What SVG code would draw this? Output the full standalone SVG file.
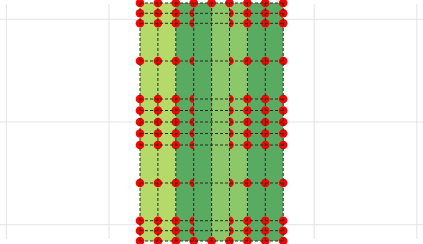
<svg xmlns="http://www.w3.org/2000/svg" width="423" height="244" viewBox="0 0 423 244">
<defs>
<style>
.bg{stroke:#e3e3e3;stroke-width:1;fill:none}
.light{fill:#b6da69}
.mid{fill:#8cc76a}
.dark{fill:#5aab62}
.dash{stroke:#1e2e1e;stroke-width:1;stroke-dasharray:3 2;fill:none}
.dot{fill:#ff0000}
</style>
<circle id="d" r="4.3" class="dot"/>
</defs>
<g id="grid">
<line class="bg" x1="6.3" y1="4" x2="6.3" y2="239"/>
<line class="bg" x1="109" y1="4" x2="109" y2="239"/>
<line class="bg" x1="314.2" y1="4" x2="314.2" y2="239"/>
<line class="bg" x1="416.8" y1="4" x2="416.8" y2="239"/>
<line class="bg" x1="0" y1="19.3" x2="423" y2="19.3"/>
<line class="bg" x1="0" y1="122" x2="423" y2="122"/>
<line class="bg" x1="0" y1="224.7" x2="423" y2="224.7"/>
</g>
<g id="bands">
<rect class="light" x="140" y="3" width="35.8" height="238"/>
<rect class="dark" x="175.8" y="3" width="35.8" height="238"/>
<rect class="mid" x="211.6" y="3" width="35.8" height="238"/>
<rect class="dark" x="247.4" y="3" width="35.8" height="238"/>
</g>
<g id="dots">
<g id="r0" transform="translate(0,3)"><use href="#d" x="140"/><use href="#d" x="157.9"/><use href="#d" x="175.8"/><use href="#d" x="193.7"/><use href="#d" x="211.6"/><use href="#d" x="229.5"/><use href="#d" x="247.4"/><use href="#d" x="265.3"/><use href="#d" x="283.2"/></g>
<g id="r1" transform="translate(0,13.3)"><use href="#d" x="140"/><use href="#d" x="157.9"/><use href="#d" x="175.8"/><use href="#d" x="193.7"/><use href="#d" x="211.6"/><use href="#d" x="229.5"/><use href="#d" x="247.4"/><use href="#d" x="265.3"/><use href="#d" x="283.2"/></g>
<g id="r2" transform="translate(0,23.3)"><use href="#d" x="140"/><use href="#d" x="157.9"/><use href="#d" x="175.8"/><use href="#d" x="193.7"/><use href="#d" x="211.6"/><use href="#d" x="229.5"/><use href="#d" x="247.4"/><use href="#d" x="265.3"/><use href="#d" x="283.2"/></g>
<g id="r3" transform="translate(0,61)"><use href="#d" x="140"/><use href="#d" x="157.9"/><use href="#d" x="175.8"/><use href="#d" x="193.7"/><use href="#d" x="211.6"/><use href="#d" x="229.5"/><use href="#d" x="247.4"/><use href="#d" x="265.3"/><use href="#d" x="283.2"/></g>
<g id="r4" transform="translate(0,99)"><use href="#d" x="140"/><use href="#d" x="157.9"/><use href="#d" x="175.8"/><use href="#d" x="193.7"/><use href="#d" x="211.6"/><use href="#d" x="229.5"/><use href="#d" x="247.4"/><use href="#d" x="265.3"/><use href="#d" x="283.2"/></g>
<g id="r5" transform="translate(0,110.5)"><use href="#d" x="140"/><use href="#d" x="157.9"/><use href="#d" x="175.8"/><use href="#d" x="193.7"/><use href="#d" x="211.6"/><use href="#d" x="229.5"/><use href="#d" x="247.4"/><use href="#d" x="265.3"/><use href="#d" x="283.2"/></g>
<g id="r6" transform="translate(0,122)"><use href="#d" x="140"/><use href="#d" x="157.9"/><use href="#d" x="175.8"/><use href="#d" x="193.7"/><use href="#d" x="211.6"/><use href="#d" x="229.5"/><use href="#d" x="247.4"/><use href="#d" x="265.3"/><use href="#d" x="283.2"/></g>
<g id="r7" transform="translate(0,133.5)"><use href="#d" x="140"/><use href="#d" x="157.9"/><use href="#d" x="175.8"/><use href="#d" x="193.7"/><use href="#d" x="211.6"/><use href="#d" x="229.5"/><use href="#d" x="247.4"/><use href="#d" x="265.3"/><use href="#d" x="283.2"/></g>
<g id="r8" transform="translate(0,145)"><use href="#d" x="140"/><use href="#d" x="157.9"/><use href="#d" x="175.8"/><use href="#d" x="193.7"/><use href="#d" x="211.6"/><use href="#d" x="229.5"/><use href="#d" x="247.4"/><use href="#d" x="265.3"/><use href="#d" x="283.2"/></g>
<g id="r9" transform="translate(0,183)"><use href="#d" x="140"/><use href="#d" x="157.9"/><use href="#d" x="175.8"/><use href="#d" x="193.7"/><use href="#d" x="211.6"/><use href="#d" x="229.5"/><use href="#d" x="247.4"/><use href="#d" x="265.3"/><use href="#d" x="283.2"/></g>
<g id="r10" transform="translate(0,220.7)"><use href="#d" x="140"/><use href="#d" x="157.9"/><use href="#d" x="175.8"/><use href="#d" x="193.7"/><use href="#d" x="211.6"/><use href="#d" x="229.5"/><use href="#d" x="247.4"/><use href="#d" x="265.3"/><use href="#d" x="283.2"/></g>
<g id="r11" transform="translate(0,230.7)"><use href="#d" x="140"/><use href="#d" x="157.9"/><use href="#d" x="175.8"/><use href="#d" x="193.7"/><use href="#d" x="211.6"/><use href="#d" x="229.5"/><use href="#d" x="247.4"/><use href="#d" x="265.3"/><use href="#d" x="283.2"/></g>
<g id="r12" transform="translate(0,241)"><use href="#d" x="140"/><use href="#d" x="157.9"/><use href="#d" x="175.8"/><use href="#d" x="193.7"/><use href="#d" x="211.6"/><use href="#d" x="229.5"/><use href="#d" x="247.4"/><use href="#d" x="265.3"/><use href="#d" x="283.2"/></g>
</g>
<g id="inner">
<rect class="dark" x="193.7" y="8" width="17.9" height="228"/>
<rect class="mid" x="211.6" y="8" width="17.9" height="228"/>
</g>
<g id="lines">
<path class="dash" d="M140 3V241M157.9 3V241M175.8 3V241M193.7 3V241M211.6 3V241M229.5 3V241M247.4 3V241M265.3 3V241M283.2 3V241"/>
<path class="dash" d="M140 3H283.2M140 13.3H283.2M140 23.3H283.2M140 61H283.2M140 99H283.2M140 110.5H283.2M140 122H283.2M140 133.5H283.2M140 145H283.2M140 183H283.2M140 220.7H283.2M140 230.7H283.2M140 241H283.2"/>
</g>
</svg>
